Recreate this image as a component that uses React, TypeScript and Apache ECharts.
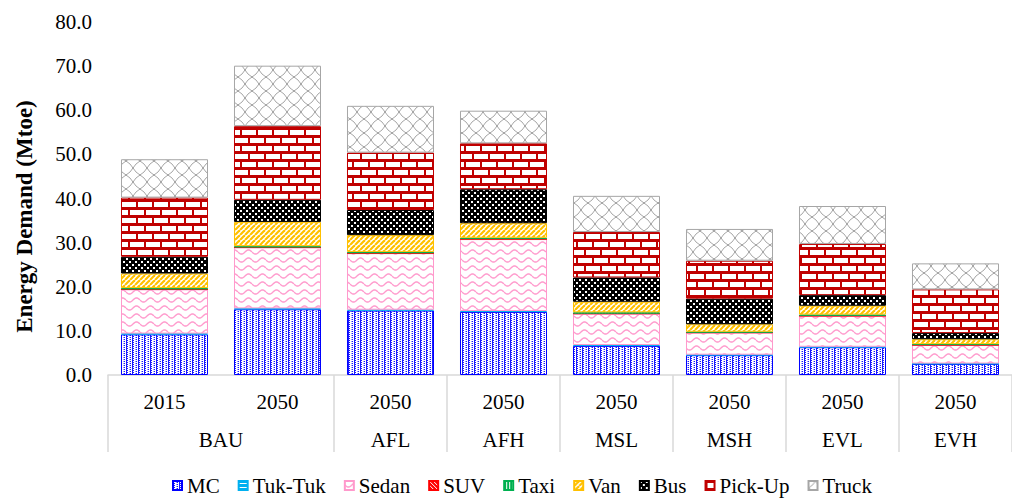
import { useEffect, useRef } from 'react';
import * as echarts from 'echarts';

// ---- Data ----
const groups = ['BAU', 'BAU', 'AFL', 'AFH', 'MSL', 'MSH', 'EVL', 'EVH'];
const years = ['2015', '2050', '2050', '2050', '2050', '2050', '2050', '2050'];
const seriesNames = ['MC', 'Tuk-Tuk', 'Sedan', 'SUV', 'Taxi', 'Van', 'Bus', 'Pick-Up', 'Truck'];
const mc = [9.2, 14.9, 14.6, 14.3, 6.6, 4.5, 6.3, 2.5];
const tukTuk = [0.2, 0.2, 0.2, 0.2, 0.2, 0.1, 0.1, 0.1];
const sedan = [10.0, 13.8, 12.8, 16.3, 7.1, 5.0, 7.0, 4.2];
const suv = [0, 0, 0, 0, 0, 0, 0, 0];
const taxi = [0.3, 0.3, 0.3, 0.3, 0.3, 0.2, 0.3, 0.2];
const van = [3.3, 5.5, 3.8, 3.3, 2.4, 1.7, 2.0, 1.1];
const bus = [3.8, 5.0, 5.7, 7.7, 5.5, 5.8, 2.4, 1.4];
const pickUp = [13.4, 16.7, 13.0, 10.4, 10.3, 8.6, 11.6, 9.9];
const truck = [8.7, 13.7, 10.6, 7.4, 8.2, 7.2, 8.6, 5.9];
const seriesValues = [mc, tukTuk, sedan, suv, taxi, van, bus, pickUp, truck];
const yMin = 0;
const yMax = 80;
const yInterval = 10;

const FONT = "'Liberation Serif', 'Times New Roman', serif";

type Draw = (ctx: CanvasRenderingContext2D) => void;
function makePattern(w: number, h: number, draw: Draw) {
  const c = document.createElement('canvas');
  c.width = w;
  c.height = h;
  const ctx = c.getContext('2d') as CanvasRenderingContext2D;
  draw(ctx);
  return { image: c, repeat: 'repeat', imageWidth: w, imageHeight: h } as any;
}

function buildPatterns() {
  const mcP = makePattern(6, 4, (ctx) => {
    ctx.fillStyle = '#fff';
    ctx.fillRect(0, 0, 6, 4);
    ctx.fillStyle = '#1a1aff';
    ctx.fillRect(0, 0, 1, 4);
    ctx.fillRect(1, 0, 1, 1);
    ctx.fillRect(1, 2, 1, 1);
    ctx.fillRect(4, 1, 1, 1);
    ctx.fillRect(4, 3, 1, 1);
    ctx.fillStyle = '#9a9aff';
    ctx.fillRect(3, 1, 1, 1);
    ctx.fillRect(3, 3, 1, 1);
  });
  const tukP = makePattern(4, 4, (ctx) => {
    ctx.fillStyle = '#00B0F0';
    ctx.fillRect(0, 0, 4, 4);
    ctx.fillStyle = '#fff';
    ctx.fillRect(0, 2, 4, 1);
  });
  const sedanP = makePattern(14, 8, (ctx) => {
    ctx.fillStyle = '#fff';
    ctx.fillRect(0, 0, 14, 8);
    ctx.strokeStyle = '#FF99CC';
    ctx.lineWidth = 1.4;
    ctx.beginPath();
    for (let x = 0; x <= 14; x += 0.5) {
      const y = 4 + 2 * Math.sin((2 * Math.PI * x) / 14);
      if (x === 0) ctx.moveTo(x, y);
      else ctx.lineTo(x, y);
    }
    ctx.stroke();
  });
  const suvP = makePattern(4, 4, (ctx) => {
    ctx.fillStyle = '#FF0000';
    ctx.fillRect(0, 0, 4, 4);
    ctx.strokeStyle = '#fff';
    ctx.lineWidth = 1;
    ctx.beginPath();
    ctx.moveTo(0, 0);
    ctx.lineTo(4, 4);
    ctx.stroke();
  });
  const taxiP = makePattern(3, 3, (ctx) => {
    ctx.fillStyle = '#00B050';
    ctx.fillRect(0, 0, 3, 3);
    ctx.fillStyle = '#fff';
    ctx.fillRect(2, 0, 1, 3);
  });
  const vanP = makePattern(5, 5, (ctx) => {
    ctx.fillStyle = '#fff';
    ctx.fillRect(0, 0, 5, 5);
    ctx.strokeStyle = '#FFC000';
    ctx.lineWidth = 2.2;
    for (const x0 of [-5, 0, 5]) {
      ctx.beginPath();
      ctx.moveTo(x0, 5);
      ctx.lineTo(x0 + 5, 0);
      ctx.stroke();
    }
  });
  const busP = makePattern(6, 6, (ctx) => {
    ctx.fillStyle = '#000';
    ctx.fillRect(0, 0, 6, 6);
    ctx.fillStyle = '#fff';
    ctx.fillRect(0, 0, 2, 2);
    ctx.fillRect(3, 3, 2, 2);
  });
  const pickP = makePattern(16, 16, (ctx) => {
    ctx.fillStyle = '#C00000';
    ctx.fillRect(0, 0, 16, 16);
    ctx.fillStyle = '#fff';
    ctx.fillRect(2, 2, 14, 5);
    ctx.fillRect(0, 10, 8, 5);
    ctx.fillRect(10, 10, 6, 5);
  });
  const truckP = makePattern(14, 14, (ctx) => {
    ctx.fillStyle = '#fff';
    ctx.fillRect(0, 0, 14, 14);
    ctx.strokeStyle = '#A6A6A6';
    ctx.lineWidth = 1;
    ctx.beginPath();
    ctx.moveTo(0, 7);
    ctx.quadraticCurveTo(4.5, 4.5, 7, 0);
    ctx.moveTo(7, 0);
    ctx.quadraticCurveTo(9.5, 4.5, 14, 7);
    ctx.moveTo(14, 7);
    ctx.quadraticCurveTo(9.5, 9.5, 7, 14);
    ctx.moveTo(7, 14);
    ctx.quadraticCurveTo(4.5, 9.5, 0, 7);
    ctx.stroke();
    ctx.fillStyle = '#A6A6A6';
    ctx.fillRect(6, 0, 2, 1);
    ctx.fillRect(6, 13, 2, 1);
    ctx.fillRect(0, 6, 1, 2);
    ctx.fillRect(13, 6, 1, 2);
  });
  return [mcP, tukP, sedanP, suvP, taxiP, vanP, busP, pickP, truckP];
}

const borderColors = ['#0000FF', '#00B0F0', '#FF99CC', '#FF0000', '#00B050', '#FFC000', '#000000', '#C00000', '#A6A6A6'];

export default function App() {
  const ref = useRef<HTMLDivElement>(null);

  useEffect(() => {
    if (!ref.current) return;
    const chart = echarts.init(ref.current, null, { renderer: 'svg' });
    const patterns = buildPatterns();

    // categories (unique keys) for the bar axis
    const catKeys = years.map((y, i) => `${groups[i]} ${y}`);

    // group axis: half-category slots with boundaryGap false
    const slotCount = groups.length * 2 + 1;
    const slots = Array.from({ length: slotCount }, (_, i) => `s${i}`);
    const labelAt: Record<number, string> = {};
    const boundaries = new Set<number>();
    let start = 0;
    for (let i = 1; i <= groups.length; i++) {
      if (i === groups.length || groups[i] !== groups[start]) {
        labelAt[start + i] = groups[start];
        boundaries.add(start * 2);
        boundaries.add(i * 2);
        start = i;
      }
    }

    const series = seriesNames.map((name, si) => ({
      name,
      type: 'bar',
      stack: 'total',
      barCategoryGap: '23%',
      xAxisIndex: 0,
      yAxisIndex: 0,
      data: seriesValues[si],
      itemStyle: {
        color: patterns[si],
        borderColor: borderColors[si],
        borderWidth: 1,
      },
      emphasis: { disabled: true },
    }));

    chart.setOption({
      animation: false,
      backgroundColor: '#fff',
      textStyle: { fontFamily: FONT },
      grid: { left: 108, top: 22, width: 912, height: 353 },
      legend: {
        data: seriesNames,
        left: 172,
        top: 475,
        padding: 0,
        icon: 'rect',
        itemWidth: 9,
        itemHeight: 9,
        itemGap: 18,
        textStyle: { fontFamily: FONT, fontSize: 21, color: '#000' },
      },
      xAxis: [
        {
          type: 'category',
          position: 'bottom',
          data: catKeys,
          axisTick: { show: false },
          axisLine: { lineStyle: { color: '#D9D9D9', width: 1.5 } },
          axisLabel: {
            fontFamily: FONT,
            fontSize: 21,
            color: '#000',
            margin: 16,
            interval: 0,
            formatter: (v: string) => v.split(' ')[1],
          },
        },
        {
          type: 'category',
          position: 'bottom',
          boundaryGap: false,
          data: slots,
          axisLine: { show: false },
          axisTick: {
            show: true,
            length: 77,
            interval: (idx: number) => boundaries.has(idx),
            lineStyle: { color: '#D9D9D9', width: 1.5 },
          },
          axisLabel: {
            fontFamily: FONT,
            fontSize: 21,
            color: '#000',
            margin: 54,
            interval: (idx: number) => labelAt[idx] !== undefined,
            formatter: (_v: string, idx: number) => labelAt[idx] ?? '',
          },
        },
      ],
      yAxis: {
        type: 'value',
        min: yMin,
        max: yMax,
        interval: yInterval,
        name: 'Energy Demand (Mtoe)',
        nameLocation: 'middle',
        nameGap: 72,
        nameTextStyle: {
          fontFamily: FONT,
          fontSize: 23,
          fontWeight: 'bold',
          color: '#000',
          padding: [0, 36, 0, 0],
        },
        axisLine: { show: false },
        axisTick: { show: false },
        splitLine: { show: false },
        axisLabel: {
          fontFamily: FONT,
          fontSize: 21,
          color: '#000',
          margin: 16,
          formatter: (v: number) => v.toFixed(1),
        },
      },
      series,
    });

    return () => chart.dispose();
  }, []);

  return (
    <div
      ref={ref}
      style={{ position: 'fixed', left: 0, top: 0, width: 1012, height: 498, background: '#fff' }}
    />
  );
}
